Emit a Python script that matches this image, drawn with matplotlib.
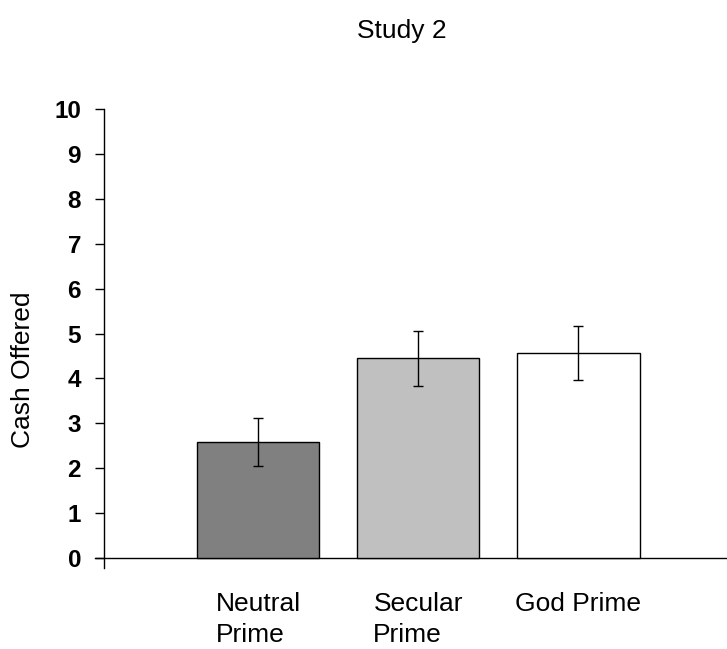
import matplotlib
matplotlib.use("Agg")
import matplotlib.pyplot as plt

plt.rcParams['font.family'] = ['Liberation Sans', 'DejaVu Sans']

categories = ["Neutral\nPrime", "Secular\nPrime", "God Prime"]
means = [2.58, 4.45, 4.56]
errors = [0.54, 0.61, 0.60]
bar_colors = ["#808080", "#c0c0c0", "#ffffff"]
y_ticks = list(range(0, 11))

W, H = 727, 649
fig = plt.figure(figsize=(W / 100, H / 100), dpi=100)
ax = fig.add_axes([104 / W, 1 - 568 / H, 1 - 104 / W, (568 - 109) / H])

x = [1, 2, 3]
ax.bar(x, means, width=0.767, color=bar_colors, edgecolor="black", linewidth=1.0, zorder=2)
ax.errorbar(x, means, yerr=errors, fmt="none", ecolor="black", elinewidth=1.0,
            capsize=3.3, capthick=1.0, zorder=3)

ax.set_xlim(0.0375, 3.93)
ax.set_ylim(-0.22, 10)
ax.axhline(0, xmin=-0.015, color="black", lw=1.0, zorder=1, clip_on=False)

for s in ("top", "right", "bottom"):
    ax.spines[s].set_visible(False)
ax.spines["left"].set_linewidth(1.0)

ax.set_yticks(y_ticks)
ax.set_yticklabels([str(v) for v in y_ticks], fontsize=17.5, fontweight="bold")
ax.tick_params(axis="y", direction="out", length=6.5, width=1.0, pad=10)

ax.set_xticks(x)
ax.set_xticklabels(categories, fontsize=19, multialignment="left", linespacing=1.4)
ax.tick_params(axis="x", length=0, pad=17)

fig.text(402 / W, 1 - 31 / H, "Study 2", fontsize=19, ha="center", va="center")
fig.text(23 / W, 1 - 370 / H, "Cash Offered", fontsize=19, ha="center", va="center",
         rotation=90)

fig.savefig("out.png", dpi=100)
